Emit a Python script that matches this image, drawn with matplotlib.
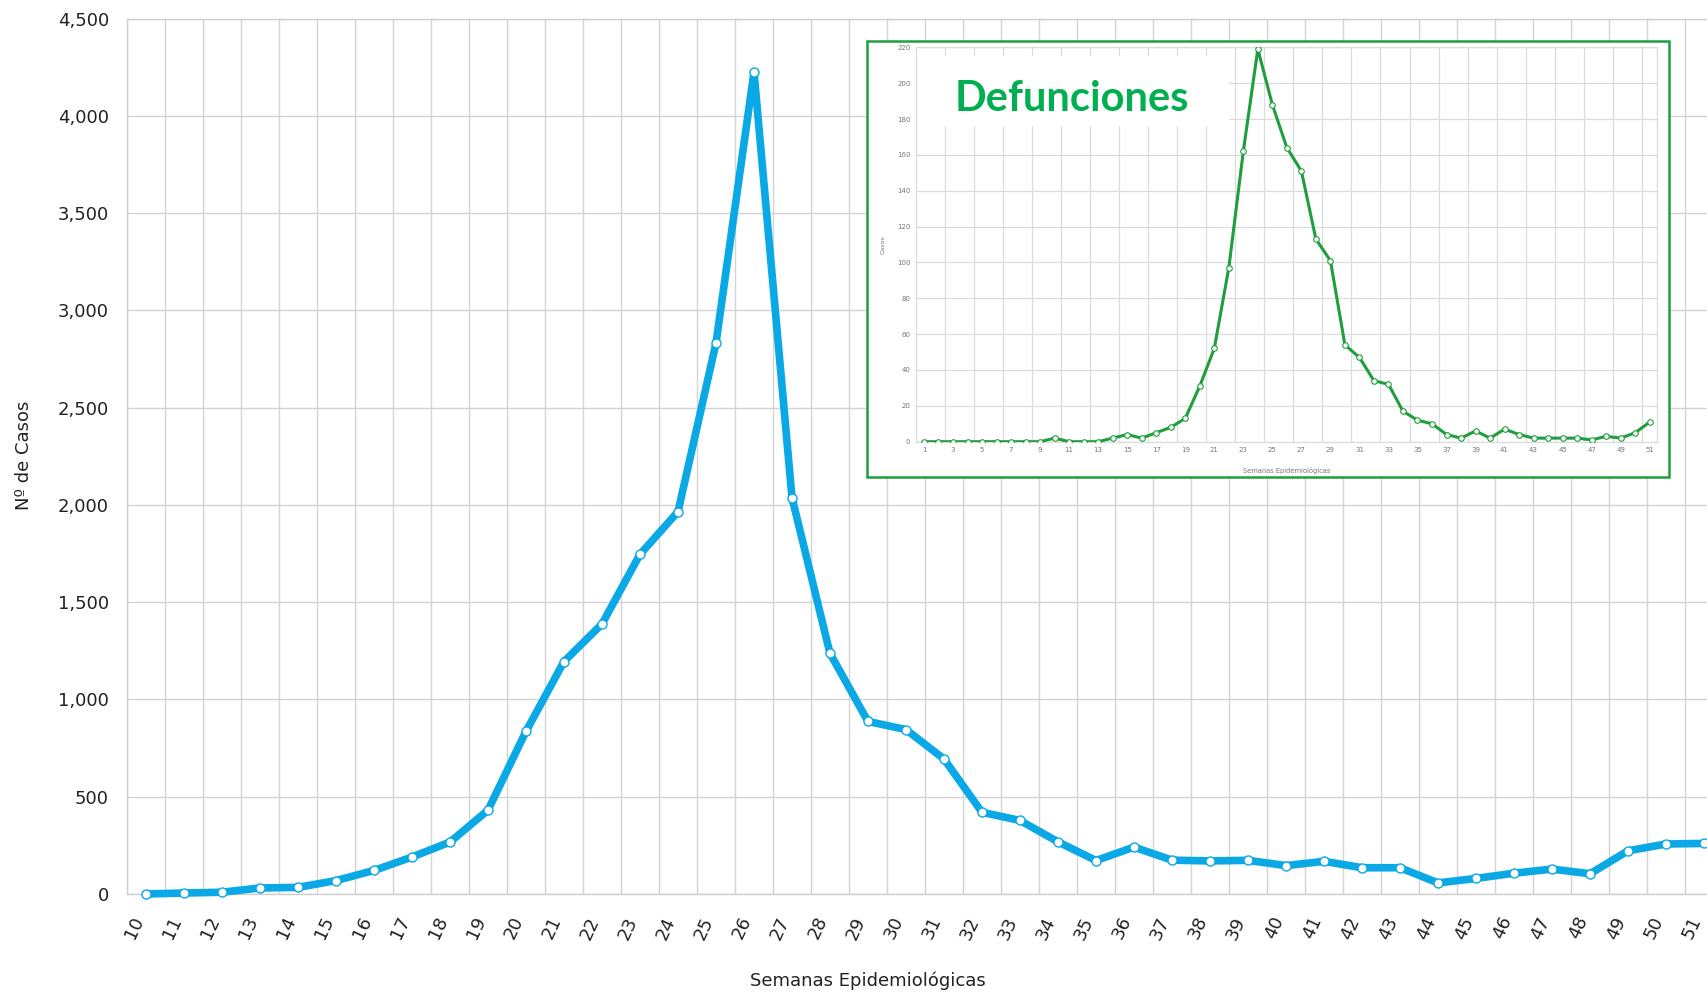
import numpy as np
import matplotlib

matplotlib.use("Agg")
import matplotlib.pyplot as plt
from matplotlib.patches import Rectangle
from matplotlib.transforms import ScaledTranslation

# Casos confirmados por semana epidemiologica (grafico principal)
semanas = list(range(10, 52))
casos = [0, 5, 9, 31, 34, 69, 121, 190, 267, 431, 836, 1195, 1388, 1746, 1965, 2832, 4225, 2037, 1237, 887, 845,
         694, 420, 378, 268, 172, 241, 174, 170, 173, 146, 168, 135, 135, 57, 80, 107, 128, 104, 222, 257, 260]
y_ticks = [0, 500, 1000, 1500, 2000, 2500, 3000, 3500, 4000, 4500]

# Defunciones por semana (recuadro)
semanas_def = list(range(1, 52))
defunciones = [0, 0, 0, 0, 0, 0, 0, 0, 0, 2, 0, 0, 0, 2, 4, 2, 5, 8, 13, 31, 52, 97, 162, 219, 188, 164,
               151, 113, 101, 54, 47, 34, 32, 17, 12, 10, 4, 2, 6, 2, 7, 4, 2, 2, 2, 2, 1, 3, 2, 5, 11]
def_y_ticks = list(range(0, 221, 20))
def_x_ticks = list(range(1, 52, 2))

W, H = 1708, 993
BLUE = "#0AA9E6"
GREEN = "#1E9E3C"


def fy(py):
    return 1 - py / H


fig = plt.figure(figsize=(W / 100, H / 100), dpi=100)

# main chart, cropped on the right like the original
ax = fig.add_axes([127 / W, fy(894), 42 * 38 / W, (894 - 18.5) / H])
x = np.arange(len(semanas))
ax.plot(x, casos, color=BLUE, lw=5.5, marker="o", ms=6.5, mfc="white", mec=BLUE, mew=1.0,
        solid_joinstyle="round", solid_capstyle="round", zorder=3, clip_on=False)
ax.set_xlim(-0.5, len(semanas) - 0.5)
ax.set_ylim(0, 4500)
ax.set_xticks(np.arange(-0.5, len(semanas), 1), minor=True)
ax.set_xticks(x, [str(s) for s in semanas])
ax.set_yticks(y_ticks, [f"{v:,}" for v in y_ticks])
ax.grid(which="minor", axis="x", color="#d4d4d4", lw=1)
ax.grid(which="major", axis="y", color="#d4d4d4", lw=1)
ax.set_axisbelow(True)
for side in ["top", "right", "left", "bottom"]:
    ax.spines[side].set_color("#cfcfcf")
    ax.spines[side].set_linewidth(1)
ax.tick_params(axis="both", which="both", length=0, labelsize=13, labelcolor="#222222")
ax.tick_params(axis="y", pad=13)
ax.tick_params(axis="x", pad=17)
for lab in ax.get_xticklabels():
    lab.set_rotation(65)
    lab.set_ha("right")
    lab.set_va("center")
    lab.set_rotation_mode("anchor")
    lab.set_transform(lab.get_transform() + ScaledTranslation(-7 / 100, 0, fig.dpi_scale_trans))

fig.text(24 / W, fy(455), "Nº de Casos", rotation=90, ha="center", va="center", fontsize=13, color="#222222")
fig.text(868 / W, fy(981), "Semanas Epidemiológicas", ha="center", va="center", fontsize=13, color="#222222")

# inset frame
fig.add_artist(Rectangle((867 / W, fy(477)), (1669 - 867) / W, (477 - 41) / H, transform=fig.transFigure,
                         facecolor="white", edgecolor=GREEN, lw=1.8, zorder=5))

ins = fig.add_axes([916 / W, fy(441.7), 741 / W, 394.4 / H])
ins.set_zorder(6)
ins.patch.set_alpha(0)
ins.plot(semanas_def, defunciones, color=GREEN, lw=2.2, marker="o", ms=4, mfc="white", mec=GREEN, mew=0.8,
         zorder=3)
ins.set_xlim(0.45, 51.5)
ins.set_ylim(0, 220)
ins.set_xticks(def_x_ticks)
ins.set_xticks(np.arange(2.45, 51, 2), minor=True)
ins.set_yticks(def_y_ticks)
ins.grid(which="minor", axis="x", color="#dcdcdc", lw=0.9)
ins.grid(which="major", axis="y", color="#dcdcdc", lw=0.9)
ins.set_axisbelow(True)
for side in ["top", "right", "left", "bottom"]:
    ins.spines[side].set_color("#dcdcdc")
    ins.spines[side].set_linewidth(0.9)
ins.tick_params(axis="both", which="both", length=0, labelsize=5, labelcolor="#777777", pad=4)
ins.text(-0.045, 0.5, "Casos", transform=ins.transAxes, rotation=90, ha="center", va="center",
         fontsize=4.5, color="#777777")
ins.text(0.5, -0.072, "Semanas Epidemiológicas", transform=ins.transAxes, ha="center", va="center",
         fontsize=4.8, color="#777777")

# white box behind the title
ins.add_patch(Rectangle((0, 0.80), 0.4224, 0.178, transform=ins.transAxes, facecolor="white",
                        edgecolor="none", zorder=1))
ins.text(0.21, 0.839, "Defunciones", transform=ins.transAxes, ha="center", va="baseline",
         fontsize=30, fontweight="bold", color="#00B050", family="Lato", zorder=4)

fig.savefig("out.png", dpi=100)
